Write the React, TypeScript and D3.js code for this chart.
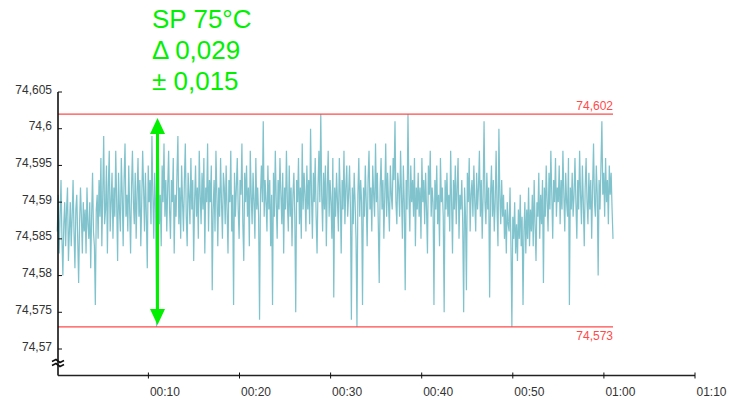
import React, { useEffect } from "react";
import * as d3 from "d3";

// ---- Data -------------------------------------------------------------
const DURATION = 61; // seconds covered by the recording
const VALUES: number[] = [
  74.586, 74.591, 74.583, 74.588, 74.593, 74.585, 74.580, 74.587, 74.590, 74.584, 74.589, 74.592, 74.582, 74.586, 74.590,
  74.584, 74.588, 74.593, 74.586, 74.581, 74.589, 74.591, 74.585, 74.579, 74.587, 74.592, 74.588, 74.583, 74.590, 74.586,
  74.589, 74.583, 74.592, 74.587, 74.585, 74.590, 74.581, 74.588, 74.594, 74.586, 74.584, 74.576, 74.589, 74.591, 74.585,
  74.593, 74.588, 74.596, 74.584, 74.591, 74.599, 74.587, 74.589, 74.595, 74.583, 74.592, 74.597, 74.586, 74.590, 74.594,
  74.585, 74.592, 74.588, 74.597, 74.590, 74.582, 74.594, 74.589, 74.586, 74.596, 74.591, 74.584, 74.593, 74.598, 74.588,
  74.591, 74.586, 74.595, 74.589, 74.583, 74.592, 74.597, 74.590, 74.587, 74.594, 74.585, 74.591, 74.596, 74.588, 74.593,
  74.584, 74.590, 74.597, 74.592, 74.586, 74.594, 74.588, 74.581, 74.595, 74.590, 74.593, 74.587, 74.599, 74.591, 74.585,
  74.594, 74.589, 74.573, 74.592, 74.596, 74.587, 74.591, 74.584, 74.595, 74.590, 74.598, 74.588, 74.593, 74.586, 74.592,
  74.597, 74.589, 74.585, 74.593, 74.590, 74.596, 74.583, 74.591, 74.588, 74.594, 74.599, 74.587, 74.592, 74.585, 74.595,
  74.590, 74.586, 74.593, 74.598, 74.588, 74.584, 74.594, 74.591, 74.587, 74.596, 74.589, 74.593, 74.582, 74.590, 74.595,
  74.588, 74.592, 74.585, 74.597, 74.591, 74.587, 74.594, 74.589, 74.596, 74.583, 74.592, 74.590, 74.598, 74.586, 74.593,
  74.590, 74.595, 74.578, 74.589, 74.593, 74.586, 74.597, 74.591, 74.584, 74.592, 74.588, 74.596, 74.590, 74.585, 74.594,
  74.592, 74.587, 74.595, 74.589, 74.583, 74.593, 74.590, 74.597, 74.586, 74.591, 74.576, 74.594, 74.588, 74.592, 74.596,
  74.589, 74.585, 74.593, 74.591, 74.598, 74.587, 74.582, 74.594, 74.590, 74.595, 74.588, 74.592, 74.584, 74.597, 74.591,
  74.587, 74.594, 74.590, 74.585, 74.596, 74.589, 74.592, 74.588, 74.574, 74.591, 74.595, 74.590, 74.601, 74.588, 74.593,
  74.590, 74.586, 74.595, 74.589, 74.593, 74.584, 74.591, 74.576, 74.594, 74.588, 74.597, 74.590, 74.585, 74.593, 74.589,
  74.596, 74.591, 74.587, 74.594, 74.583, 74.592, 74.589, 74.597, 74.590, 74.586, 74.595, 74.588, 74.592, 74.584, 74.591,
  74.594, 74.588, 74.575, 74.593, 74.590, 74.596, 74.587, 74.592, 74.585, 74.598, 74.589, 74.594, 74.591, 74.586, 74.595,
  74.589, 74.593, 74.587, 74.600, 74.591, 74.585, 74.594, 74.590, 74.596, 74.588, 74.583, 74.592, 74.597, 74.590, 74.602,
  74.591, 74.586, 74.594, 74.589, 74.595, 74.584, 74.592, 74.597, 74.588, 74.593, 74.590, 74.585, 74.596, 74.577, 74.592,
  74.588, 74.594, 74.590, 74.586, 74.596, 74.591, 74.583, 74.593, 74.589, 74.597, 74.587, 74.592, 74.595, 74.588, 74.591,
  74.595, 74.589, 74.574, 74.592, 74.587, 74.594, 74.590, 74.585, 74.573, 74.591, 74.596, 74.588, 74.593, 74.590, 74.576,
  74.592, 74.588, 74.595, 74.590, 74.584, 74.593, 74.597, 74.589, 74.592, 74.586, 74.595, 74.591, 74.588, 74.598, 74.590,
  74.594, 74.587, 74.579, 74.592, 74.596, 74.589, 74.593, 74.585, 74.591, 74.598, 74.588, 74.594, 74.590, 74.586, 74.595,
  74.591, 74.589, 74.596, 74.593, 74.601, 74.590, 74.587, 74.594, 74.592, 74.588, 74.597, 74.591, 74.585, 74.595, 74.590,
  74.578, 74.593, 74.589, 74.602, 74.591, 74.586, 74.595, 74.590, 74.593, 74.588, 74.596, 74.584, 74.592, 74.589, 74.594,
  74.588, 74.592, 74.585, 74.596, 74.590, 74.593, 74.587, 74.594, 74.589, 74.583, 74.595, 74.591, 74.597, 74.588, 74.592,
  74.590, 74.576, 74.593, 74.589, 74.595, 74.587, 74.591, 74.584, 74.596, 74.590, 74.592, 74.588, 74.575, 74.593, 74.589,
  74.594, 74.588, 74.591, 74.586, 74.597, 74.590, 74.583, 74.593, 74.589, 74.595, 74.587, 74.592, 74.596, 74.585, 74.591,
  74.589, 74.593, 74.587, 74.575, 74.592, 74.588, 74.578, 74.594, 74.590, 74.596, 74.586, 74.591, 74.593, 74.588, 74.595,
  74.590, 74.586, 74.594, 74.589, 74.592, 74.597, 74.588, 74.593, 74.585, 74.591, 74.601, 74.590, 74.587, 74.594, 74.589,
  74.592, 74.577, 74.591, 74.595, 74.588, 74.593, 74.586, 74.590, 74.597, 74.589, 74.584, 74.600, 74.591, 74.587, 74.593,
  74.588, 74.591, 74.585, 74.589, 74.583, 74.590, 74.587, 74.586, 74.592, 74.584, 74.573, 74.588, 74.585, 74.590, 74.583,
  74.587, 74.582, 74.589, 74.585, 74.591, 74.584, 74.588, 74.576, 74.586, 74.590, 74.583, 74.589, 74.585, 74.592, 74.584,
  74.589, 74.586, 74.591, 74.584, 74.593, 74.587, 74.582, 74.590, 74.588, 74.594, 74.585, 74.591, 74.587, 74.593, 74.579,
  74.592, 74.588, 74.595, 74.590, 74.586, 74.594, 74.589, 74.597, 74.591, 74.585, 74.593, 74.590, 74.596, 74.588, 74.592,
  74.590, 74.595, 74.587, 74.593, 74.589, 74.597, 74.591, 74.586, 74.594, 74.590, 74.588, 74.596, 74.576, 74.592, 74.589,
  74.594, 74.588, 74.591, 74.596, 74.590, 74.585, 74.593, 74.589, 74.597, 74.591, 74.587, 74.595, 74.590, 74.584, 74.592,
  74.596, 74.590, 74.587, 74.594, 74.589, 74.593, 74.585, 74.592, 74.598, 74.590, 74.588, 74.595, 74.591, 74.580, 74.593,
  74.589, 74.595, 74.601, 74.591, 74.594, 74.588, 74.596, 74.590, 74.593, 74.587, 74.595, 74.591, 74.594, 74.589, 74.585,
];

const Y_TICKS = [74.57, 74.575, 74.58, 74.585, 74.59, 74.595, 74.6, 74.605];
const X_TICKS = [10, 20, 30, 40, 50, 60, 70];
const LIMIT_HIGH = 74.602;
const LIMIT_LOW = 74.573;
const ARROW_TIME = 11;
const ANNOTATION = ["SP 75°C", "Δ 0,029", "± 0,015"];

// ---- Chart ------------------------------------------------------------
const W = 730;
const H = 401;
const FONT = "'Liberation Sans', Arial, Helvetica, sans-serif";
const GREEN = "#00f000";
const RED = "#ff4a4a";
const LINE = "#80c3cd";

const locale = d3.formatLocale({ decimal: ",", thousands: ".", grouping: [3], currency: ["", ""] });
const fmtY = locale.format(".3~f");
const fmtLimit = locale.format(".3f");
const fmtTime = (s: number) => `${String(Math.floor(s / 60)).padStart(2, "0")}:${String(s % 60).padStart(2, "0")}`;

export default function App() {
  useEffect(() => {
    document.body.style.margin = "0";
  }, []);

  const x = d3.scaleLinear().domain([0, 70]).range([57.3, 695]);
  const y = d3.scaleLinear().domain([74.57, 74.605]).range([349, 92]);
  const dt = DURATION / (VALUES.length - 1);

  const axisX = x(0) + 0.7;
  const axisBottom = 375.5;

  const line = d3
    .line<number>()
    .x((_, i) => x(i * dt))
    .y((d) => y(d));

  const endX = x(DURATION);
  const arrowX = x(ARROW_TIME);
  const topTip = y(LIMIT_HIGH) + 4;
  const botTip = y(LIMIT_LOW) - 2;

  return (
    <svg width={W} height={H} style={{ display: "block", fontFamily: FONT }}>
      <rect width={W} height={H} fill="#fff" />

      {/* data */}
      <path d={line(VALUES) || ""} fill="none" stroke={LINE} strokeWidth={1.25} />

      {/* limit lines */}
      <line x1={axisX} x2={endX} y1={y(LIMIT_HIGH)} y2={y(LIMIT_HIGH)} stroke={RED} strokeWidth={1.3} />
      <line x1={axisX} x2={endX} y1={y(LIMIT_LOW)} y2={y(LIMIT_LOW)} stroke={RED} strokeWidth={1.3} />
      <text x={endX} y={y(LIMIT_HIGH) - 4} textAnchor="end" fontSize={12} fill={RED}>
        {fmtLimit(LIMIT_HIGH)}
      </text>
      <text x={endX} y={y(LIMIT_LOW) + 13.5} textAnchor="end" fontSize={12} fill={RED}>
        {fmtLimit(LIMIT_LOW)}
      </text>

      {/* arrow */}
      <line x1={arrowX} x2={arrowX} y1={topTip + 10} y2={botTip - 10} stroke={GREEN} strokeWidth={3} />
      <path
        d={`M${arrowX},${topTip} L${arrowX + 7.5},${topTip + 16} L${arrowX - 7.5},${topTip + 16} Z`}
        fill={GREEN}
      />
      <path
        d={`M${arrowX},${botTip} L${arrowX + 7.5},${botTip - 16} L${arrowX - 7.5},${botTip - 16} Z`}
        fill={GREEN}
      />

      {/* annotation */}
      {ANNOTATION.map((t, i) => (
        <text key={t} x={152} y={27.5 + i * 31} fontSize={26} fill={GREEN}>
          {t}
        </text>
      ))}

      {/* y axis */}
      <line x1={axisX} x2={axisX} y1={y(74.605)} y2={axisBottom} stroke="#111" strokeWidth={1.6} />
      {Y_TICKS.map((v) => (
        <g key={v}>
          <line x1={axisX} x2={axisX + 4} y1={y(v)} y2={y(v)} stroke="#111" strokeWidth={1} />
          <text x={52} y={y(v) + 1.5} textAnchor="end" fontSize={12} fill="#333">
            {fmtY(v)}
          </text>
        </g>
      ))}
      {/* axis break */}
      <path d={`M${axisX - 6},361.5 L${axisX - 2},359.5 L${axisX + 2},362.5 L${axisX + 6},360.5`} fill="none" stroke="#111" strokeWidth={1.6} />
      <path d={`M${axisX - 6},365.5 L${axisX - 2},363.5 L${axisX + 2},366.5 L${axisX + 6},364.5`} fill="none" stroke="#111" strokeWidth={1.6} />

      {/* x axis */}
      <line x1={axisX} x2={x(70)} y1={axisBottom} y2={axisBottom} stroke="#222" strokeWidth={1.6} />
      {X_TICKS.map((t) => (
        <g key={t}>
          <line x1={x(t)} x2={x(t)} y1={axisBottom - 3} y2={axisBottom + 3} stroke="#111" strokeWidth={1} />
          <text x={x(t) + 1.5} y={395.5} fontSize={12} fill="#333">
            {fmtTime(t)}
          </text>
        </g>
      ))}
    </svg>
  );
}
